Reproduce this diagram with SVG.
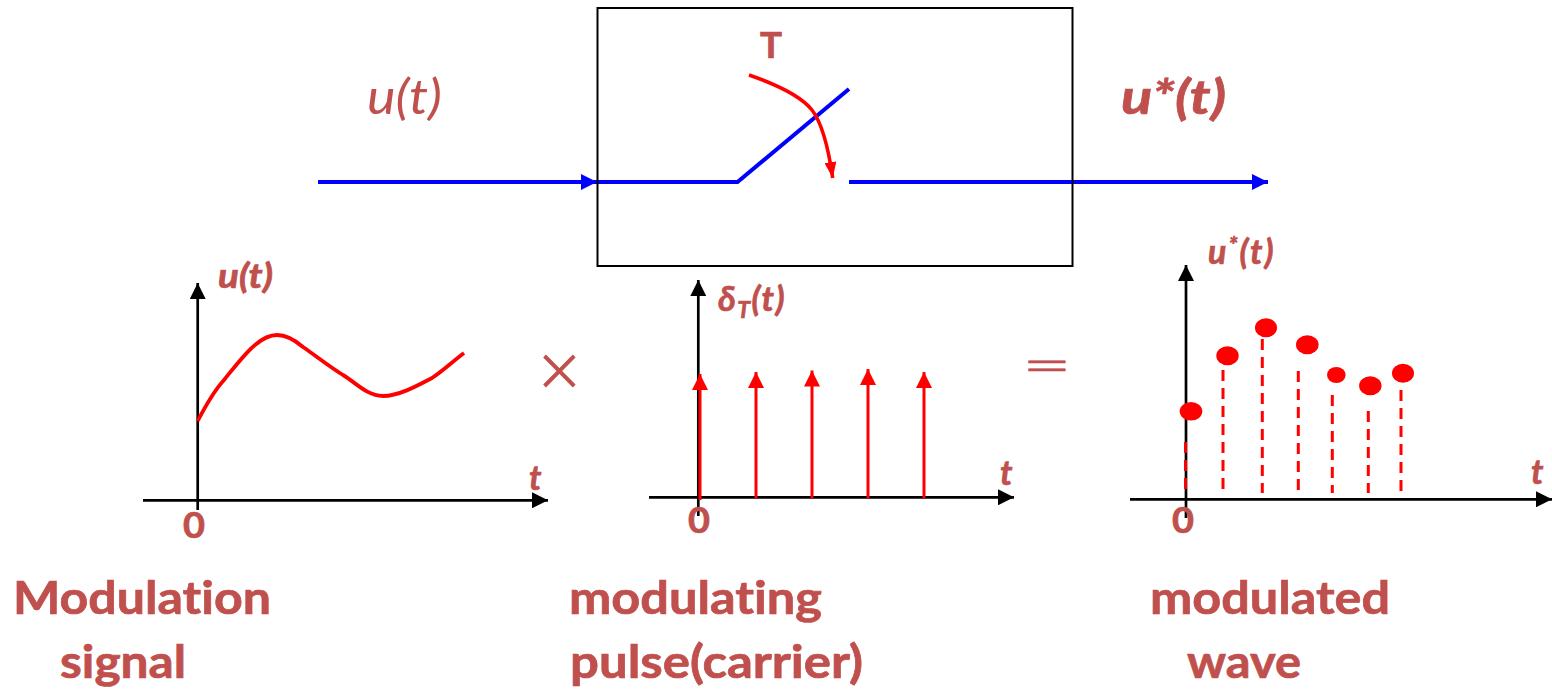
<svg xmlns="http://www.w3.org/2000/svg" width="1552" height="690" viewBox="0 0 1552 690">
<style>
text{font-family:"Lato","Open Sans","Liberation Sans",sans-serif;fill:#C0504D;font-weight:700;font-variant-ligatures:none;stroke:#C0504D;stroke-width:.7}
.big{font-size:46px}
.title{font-size:48px;font-style:italic}
.lab{font-size:34px;font-style:italic}
.zero{font-size:36px}
.thin{stroke:none;font-weight:400}
.axis{fill:none;stroke:#000;stroke-width:2.7}
.blue{fill:none;stroke:#0000FF;stroke-width:4}
.red{fill:none;stroke:#FF0000;stroke-width:3}
.dash{fill:none;stroke:#FF0000;stroke-width:3;stroke-dasharray:11 7}
</style>
<defs>
<marker id="ah" markerUnits="userSpaceOnUse" markerWidth="16" markerHeight="16" refX="16" refY="8" orient="auto"><path d="M0,0L16,8L0,16Z" fill="#000"/></marker>
<marker id="ahb" markerUnits="userSpaceOnUse" markerWidth="16" markerHeight="16" refX="16" refY="8" orient="auto"><path d="M0,0L16,8L0,16Z" fill="#0000FF"/></marker>
<marker id="ahr" markerUnits="userSpaceOnUse" markerWidth="16" markerHeight="16" refX="16" refY="8" orient="auto"><path d="M0,0L16,8L0,16Z" fill="#FF0000"/></marker>
<marker id="ahs" markerUnits="userSpaceOnUse" markerWidth="16" markerHeight="12" refX="16" refY="6" orient="auto"><path d="M0,0L16,6L0,12Z" fill="#FF0000"/></marker>
</defs>
<g id="connectors">
<path class="blue" marker-end="url(#ahb)" d="M318,182H597"/>
<path class="blue" d="M597,182H737.500L849,89"/>
<path class="blue" marker-end="url(#ahb)" d="M849,182H1268"/>
<path class="red" style="stroke-width:3.6" marker-end="url(#ahs)" d="M749,75C775,84 800,95 812,110C822,123 828,145 832.700,178"/>
</g>
<g id="sampler"><rect x="597.500" y="8" width="475" height="258" fill="none" stroke="#000" stroke-width="2"/>
<text x="771" y="58" text-anchor="middle" font-size="36" textLength="22" lengthAdjust="spacingAndGlyphs">T</text></g>
<g id="label-input"><text class="title thin" x="367" y="114" textLength="75" lengthAdjust="spacingAndGlyphs">u(t)</text></g>
<g id="label-output"><text class="title" x="1121" y="114" textLength="105" lengthAdjust="spacingAndGlyphs">u*(t)</text></g>
<g id="plot-signal">
<path class="axis" marker-end="url(#ah)" d="M197.700,510V283"/>
<path class="axis" marker-end="url(#ah)" d="M143,500.300H548"/>
<path d="M197.700,421C206,405 214,391 224,380C233,369 245,353 255,345C262,339 270,335 277,335C287,335 296,341 303,347C316,356 330,367 343,375C355,382 367,396 383,396C398,396 415,387 432,378C443,371 452,362 464,353" fill="none" stroke="#FF0000" stroke-width="3.800"/>
<text class="lab" x="218" y="288" textLength="55" lengthAdjust="spacingAndGlyphs">u(t)</text>
<text class="lab" x="529" y="490">t</text>
<text class="zero" x="183" y="538" textLength="22" lengthAdjust="spacingAndGlyphs">0</text>
</g>
<g id="op-times"><text x="559.500" y="389.500" text-anchor="middle" font-size="60" style="font-family:'DejaVu Sans',sans-serif;font-weight:200;stroke-width:1">×</text></g>
<g id="plot-pulse">
<path class="axis" marker-end="url(#ah)" d="M698.300,516V280"/>
<path class="axis" marker-end="url(#ah)" d="M649,497.300H1014"/>
<path class="red" marker-end="url(#ahr)" d="M700,500V374"/>
<path class="red" marker-end="url(#ahr)" d="M756,498V372"/>
<path class="red" marker-end="url(#ahr)" d="M812,498V370.500"/>
<path class="red" marker-end="url(#ahr)" d="M868,498V369"/>
<path class="red" marker-end="url(#ahr)" d="M924,498V372"/>
<text class="lab" x="718" y="311" letter-spacing="1.500">δ<tspan dy="7" font-size="23">T</tspan><tspan dy="-7">(t)</tspan></text>
<text class="lab" x="1000" y="485">t</text>
<text class="zero" x="688" y="533" textLength="22" lengthAdjust="spacingAndGlyphs">0</text>
</g>
<g id="op-equals"><text transform="translate(1047,375.500) scale(1.2,.5)" text-anchor="middle" font-size="62" style="font-family:'Liberation Sans',sans-serif;font-weight:400;stroke-width:1">=</text></g>
<g id="plot-modulated">
<path class="axis" marker-end="url(#ah)" d="M1186,518V265"/>
<path class="axis" marker-end="url(#ah)" d="M1130,499.300H1552"/>
<path class="dash" d="M1185.500,442V492"/>
<path class="dash" d="M1223,370V493"/>
<path class="dash" d="M1262.300,339V493"/>
<path class="dash" d="M1298.300,371V494"/>
<path class="dash" d="M1332.300,395V493"/>
<path class="dash" d="M1368.300,411V493"/>
<path class="dash" d="M1401,390V493"/>
<g fill="#FF0000">
<ellipse cx="1191" cy="411.300" rx="11.300" ry="9.300"/>
<ellipse cx="1227.500" cy="355.700" rx="11.200" ry="9.500"/>
<ellipse cx="1266" cy="327.700" rx="11" ry="9.500"/>
<ellipse cx="1307.300" cy="344.700" rx="11.300" ry="9.500"/>
<ellipse cx="1336.300" cy="375" rx="9.300" ry="8"/>
<ellipse cx="1370.300" cy="385.700" rx="11.200" ry="9.500"/>
<ellipse cx="1403" cy="373.300" rx="11" ry="9.500"/>
</g>
<text class="lab" x="1208" y="264" letter-spacing="2">u<tspan dy="-11" font-size="23">*</tspan><tspan dy="11">(t)</tspan></text>
<text class="lab" x="1531" y="484">t</text>
<text class="zero" x="1172" y="533" textLength="22" lengthAdjust="spacingAndGlyphs">0</text>
</g>
<g id="caption-signal">
<text class="big" x="13" y="614" textLength="258" lengthAdjust="spacingAndGlyphs">Modulation</text>
<text class="big" x="60" y="678" textLength="126" lengthAdjust="spacingAndGlyphs">signal</text>
</g>
<g id="caption-pulse">
<text class="big" x="569" y="614" textLength="253" lengthAdjust="spacingAndGlyphs">modulating</text>
<text class="big" x="570" y="678" textLength="293" lengthAdjust="spacingAndGlyphs">pulse(carrier)</text>
</g>
<g id="caption-wave">
<text class="big" x="1150" y="614" textLength="240" lengthAdjust="spacingAndGlyphs">modulated</text>
<text class="big" x="1187" y="678" textLength="114" lengthAdjust="spacingAndGlyphs">wave</text>
</g>
</svg>
